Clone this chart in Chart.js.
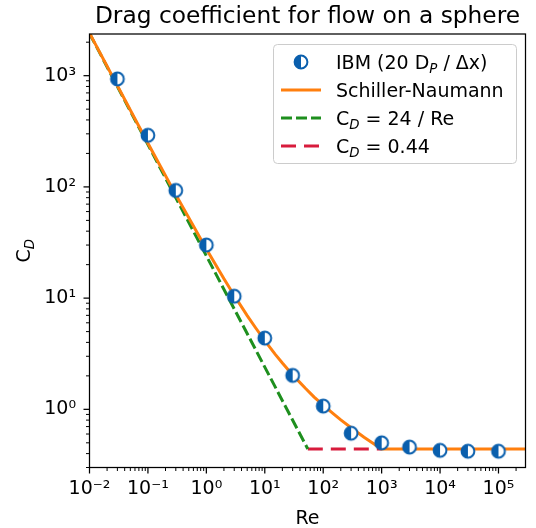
<!DOCTYPE html>
<html>
<head>
<meta charset="utf-8">
<script src="https://cdn.jsdelivr.net/npm/chart.js@4.4.0/dist/chart.umd.min.js"></script>
<style>
  body { margin: 0; background: #fff; }
  #wrap { width: 536px; height: 528px; }
</style>
</head>
<body>
<div id="wrap"><canvas id="dragChart" width="536" height="528"></canvas></div>
<script>
// IBM results (20 particle diameters per cell)
var reIbm = [0.03, 0.1, 0.3, 1, 3, 10, 30, 100, 300, 1000, 3000, 10000, 30000, 100000];
var cdIbm = [935, 291, 93, 30, 10.4, 4.37, 2.02, 1.07, 0.61, 0.50, 0.458, 0.428, 0.42, 0.42];

// Schiller-Naumann correlation
var reSN = [0.01, 0.1, 0.3, 1, 2, 3, 5, 7, 10, 15, 20, 30, 50, 70, 100, 150, 200, 300, 500, 700, 1000, 320000];
var cdSN = [2415, 247, 85.2, 27.6, 14.9, 10.55, 6.97, 5.39, 4.15, 3.14, 2.61, 2.04, 1.54, 1.29, 1.09, 0.912, 0.804, 0.684, 0.562, 0.498, 0.44, 0.44];

// Stokes drag and the constant Newton regime value
var reStokes = [0.01, 54.5];
var cdStokes = [2400, 0.44];
var reNewton = [54.5, 1000];
var cdNewton = [0.44, 0.44];

var xTickValues = [0.01, 0.1, 1, 10, 100, 1000, 10000, 100000];
var xTickLabels = ['10⁻²', '10⁻¹', '10⁰', '10¹', '10²', '10³', '10⁴', '10⁵'];
var yTickValues = [1, 10, 100, 1000];
var yTickLabels = ['10⁰', '10¹', '10²', '10³'];

var FONT = '"DejaVu Sans", sans-serif';
var BLUE = '#0a5fad';
var ORANGE = '#ff7f0e';
var GREEN = '#1e8f1e';
var RED = '#d81b3c';
var LW = 3;

function pts(xs, ys) {
  return xs.map(function (x, i) { return { x: x, y: ys[i] }; });
}

// half filled circle marker
var marker = document.createElement('canvas');
marker.width = 20; marker.height = 20;
(function () {
  var c = marker.getContext('2d');
  var r = 6.4;
  c.fillStyle = '#fff';
  c.beginPath(); c.arc(10, 10, r, 0, Math.PI * 2); c.fill();
  c.fillStyle = BLUE;
  c.beginPath(); c.arc(10, 10, r, Math.PI / 2, Math.PI * 1.5); c.closePath(); c.fill();
  c.strokeStyle = BLUE; c.lineWidth = 2;
  c.beginPath(); c.arc(10, 10, r, 0, Math.PI * 2); c.stroke();
})();

// text with subscripts, e.g. C_D
function drawRich(ctx, parts, x, y, size) {
  parts.forEach(function (p) {
    ctx.font = (p.sub ? 'italic ' + (size * 0.7) : size) + 'px ' + FONT;
    ctx.fillText(p.t, x, y + (p.sub ? size * 0.22 : 0));
    x += ctx.measureText(p.t).width;
  });
}
function richWidth(ctx, parts, size) {
  var w = 0;
  parts.forEach(function (p) {
    ctx.font = (p.sub ? 'italic ' + (size * 0.7) : size) + 'px ' + FONT;
    w += ctx.measureText(p.t).width;
  });
  return w;
}

function minorValues(min, max) {
  var out = [];
  for (var e = Math.floor(Math.log10(min)); e <= Math.ceil(Math.log10(max)); e++) {
    for (var m = 1; m <= 9; m++) {
      var v = m * Math.pow(10, e);
      if (v >= min && v <= max) out.push({ v: v, major: m === 1 });
    }
  }
  return out;
}

var decorations = {
  id: 'decorations',
  afterDraw: function (chart) {
    var ctx = chart.ctx, a = chart.chartArea;
    var xs = chart.scales.x, ys = chart.scales.y;
    ctx.save();
    ctx.strokeStyle = '#000';
    ctx.fillStyle = '#000';

    // frame
    ctx.lineWidth = 1.25;
    ctx.strokeRect(a.left, a.top, a.right - a.left, a.bottom - a.top);

    // tick marks
    minorValues(xs.min, xs.max).forEach(function (t) {
      var px = xs.getPixelForValue(t.v);
      ctx.lineWidth = t.major ? 1.25 : 1;
      ctx.beginPath(); ctx.moveTo(px, a.bottom); ctx.lineTo(px, a.bottom + (t.major ? 6 : 3.5)); ctx.stroke();
    });
    minorValues(ys.min, ys.max).forEach(function (t) {
      var py = ys.getPixelForValue(t.v);
      ctx.lineWidth = t.major ? 1.25 : 1;
      ctx.beginPath(); ctx.moveTo(a.left, py); ctx.lineTo(a.left - (t.major ? 6 : 3.5), py); ctx.stroke();
    });

    // title and axis labels
    ctx.textAlign = 'center';
    ctx.textBaseline = 'alphabetic';
    ctx.font = '23.3px ' + FONT;
    ctx.fillText('Drag coefficient for flow on a sphere', (a.left + a.right) / 2, 23);
    ctx.font = '19px ' + FONT;
    ctx.fillText('Re', (a.left + a.right) / 2, 524);

    ctx.textAlign = 'left';
    var yl = [{ t: 'C' }, { t: 'D', sub: true }];
    ctx.save();
    ctx.translate(30, (a.top + a.bottom) / 2);
    ctx.rotate(-Math.PI / 2);
    drawRich(ctx, yl, -richWidth(ctx, yl, 19) / 2, 0, 19);
    ctx.restore();

    // legend
    var bx = 273, by = 44, bw = 243, bh = 119;
    ctx.fillStyle = 'rgba(255,255,255,0.8)';
    ctx.strokeStyle = '#cccccc';
    ctx.lineWidth = 1;
    ctx.beginPath(); ctx.roundRect(bx + 0.5, by + 0.5, bw, bh, 4); ctx.fill(); ctx.stroke();

    var rows = [
      { y: 62, kind: 'marker', parts: [{ t: 'IBM (20 D' }, { t: 'P', sub: true }, { t: ' / Δx)' }] },
      { y: 90, kind: 'line', color: ORANGE, dash: [], parts: [{ t: 'Schiller-Naumann' }] },
      { y: 118, kind: 'line', color: GREEN, dash: [11, 4], parts: [{ t: 'C' }, { t: 'D', sub: true }, { t: ' = 24 / Re' }] },
      { y: 146, kind: 'line', color: RED, dash: [15, 8], parts: [{ t: 'C' }, { t: 'D', sub: true }, { t: ' = 0.44' }] }
    ];
    rows.forEach(function (r) {
      if (r.kind === 'marker') {
        ctx.drawImage(marker, 301 - 10, r.y - 10);
      } else {
        ctx.strokeStyle = r.color;
        ctx.lineWidth = LW;
        ctx.setLineDash(r.dash);
        ctx.beginPath(); ctx.moveTo(281, r.y); ctx.lineTo(321, r.y); ctx.stroke();
        ctx.setLineDash([]);
      }
      ctx.fillStyle = '#000';
      drawRich(ctx, r.parts, 336, r.y + 7, 19);
    });
    ctx.restore();
  }
};

function fixedTicks(values) {
  return function (scale) {
    scale.ticks = values.map(function (v) { return { value: v }; });
  };
}

var ctx = document.getElementById('dragChart').getContext('2d');
var dragChart = new Chart(ctx, {
  type: 'scatter',
  data: {
    datasets: [
      {
        label: 'IBM',
        data: pts(reIbm, cdIbm),
        pointStyle: marker,
        pointRadius: 7,
        showLine: false,
        order: 0
      },
      {
        label: 'Schiller-Naumann',
        data: pts(reSN, cdSN),
        showLine: true,
        borderColor: ORANGE,
        borderWidth: LW,
        pointRadius: 0,
        order: 1
      },
      {
        label: 'CD = 24 / Re',
        data: pts(reStokes, cdStokes),
        showLine: true,
        borderColor: GREEN,
        borderWidth: LW,
        borderDash: [11, 4],
        pointRadius: 0,
        order: 2
      },
      {
        label: 'CD = 0.44',
        data: pts(reNewton, cdNewton),
        showLine: true,
        borderColor: RED,
        borderWidth: LW,
        borderDash: [15, 8],
        pointRadius: 0,
        order: 3
      }
    ]
  },
  options: {
    responsive: false,
    animation: false,
    events: [],
    layout: { padding: { top: 34, right: 10.5, left: 0, bottom: 0 } },
    plugins: { legend: { display: false }, tooltip: { enabled: false }, title: { display: false } },
    scales: {
      x: {
        type: 'logarithmic',
        min: 0.01,
        max: 290000,
        grid: { display: false, drawTicks: false },
        border: { display: false },
        afterBuildTicks: fixedTicks(xTickValues),
        afterFit: function (scale) { scale.height = 60.5; },
        ticks: {
          autoSkip: false,
          maxRotation: 0,
          padding: 10,
          color: '#000',
          font: { family: 'DejaVu Sans', size: 19 },
          callback: function (v) { return xTickLabels[xTickValues.indexOf(v)]; }
        }
      },
      y: {
        type: 'logarithmic',
        min: 0.30,
        max: 2370,
        grid: { display: false, drawTicks: false },
        border: { display: false },
        afterBuildTicks: fixedTicks(yTickValues),
        afterFit: function (scale) { scale.width = 89.5; },
        ticks: {
          autoSkip: false,
          padding: 13.5,
          color: '#000',
          font: { family: 'DejaVu Sans', size: 19 },
          callback: function (v) { return yTickLabels[yTickValues.indexOf(v)]; }
        }
      }
    }
  },
  plugins: [decorations]
});
</script>
</body>
</html>
